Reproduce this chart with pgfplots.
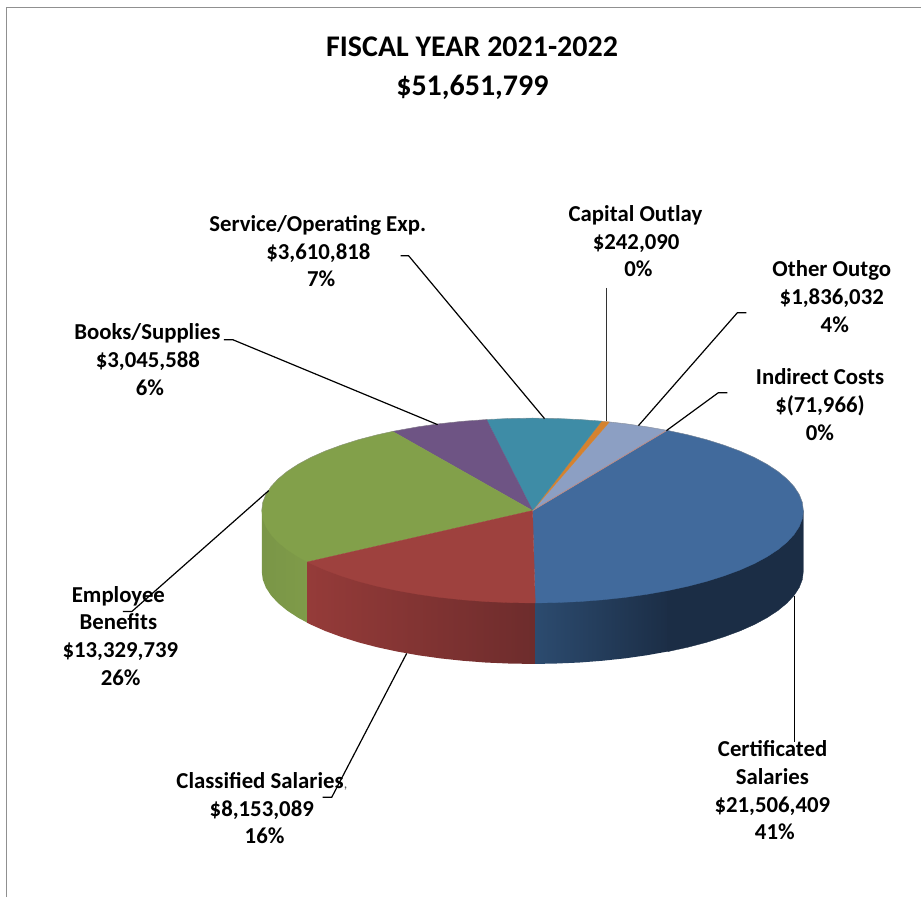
\documentclass[border=0pt]{standalone}
\usepackage{pgfplots}
\pgfplotsset{compat=1.18}
\usepackage{fontspec}
\setmainfont{Carlito}

\definecolor{blueTop}{HTML}{416A9C}
\definecolor{blueWallA}{HTML}{2C4B6F}
\definecolor{blueWallB}{HTML}{1B2D45}
\definecolor{redTop}{HTML}{9E413E}
\definecolor{redWallA}{HTML}{953B39}
\definecolor{redWallB}{HTML}{6D2C2C}
\definecolor{greenTop}{HTML}{82A04A}
\definecolor{greenWallA}{HTML}{7A9647}
\definecolor{greenWallB}{HTML}{7F9B49}
\definecolor{purpleTop}{HTML}{6E5484}
\definecolor{tealTop}{HTML}{3E8CA6}
\definecolor{orangeTop}{HTML}{D4822F}
\definecolor{periTop}{HTML}{8C9FC3}
\definecolor{indirectLine}{HTML}{C08A80}
\definecolor{frameGray}{HTML}{909090}

% one line of label text, centred on x, sitting on baseline y
\newcommand{\lbl}[3]{\node[anchor=base,inner sep=0pt,font=\fontsize{22.8}{26}\selectfont\bfseries] at (axis cs:#1,#2) {#3};}
\newcommand{\ttl}[3]{\node[anchor=base,inner sep=0pt,font=\fontsize{30}{34}\selectfont\bfseries] at (axis cs:#1,#2) {#3};}

\begin{document}
\begin{tikzpicture}
\begin{axis}[
  scale only axis, width=922pt, height=898pt,
  xmin=0, xmax=922, ymin=0, ymax=898, y dir=reverse,
  axis lines=none, clip=false,
]
% white chart area, which also sets the extent of the page
\addplot[fill=white, draw=none] coordinates {(0,0) (922,0) (922,898) (0,898)} --cycle;
% chart frame
\addplot[frameGray, line width=1.6pt] coordinates {(6.5,898) (6.5,7.5) (922,7.5)};

% side walls
\addplot[draw=none, left color=greenWallA, right color=greenWallB] coordinates {
  (262,511) (309,562.4) (309,624) (298.3,618.25) (287.4,611.1) (278.3,603.6)
  (271.2,595.9) (266.1,588.1) (263,580.1) (262,572)} --cycle;
\addplot[draw=none, left color=redWallA, right color=redWallB] coordinates {
  (307.7,562.4) (537.5,603.5) (537.5,664.5) (533,664.5) (509.4,664.1) (486,663.1)
  (462.9,661.3) (440.3,658.9) (418.5,655.8) (397.5,652.1) (377.6,647.8) (358.8,642.9)
  (341.4,637.4) (325.4,631.5) (311,625.1) (307.7,623.4)} --cycle;
\addplot[draw=none, left color=blueWallA, right color=blueWallB] coordinates {
  (535.7,603.5) (672,590.4) (672,651.4) (647.5,655.8) (625.7,658.9) (603.1,661.3)
  (580,663.1) (556.6,664.1) (535.7,664.5)} --cycle;
\addplot[fill=blueWallB, draw=blueWallB, line width=.3pt] coordinates {
  (668.5,591.1) (804,511) (804,572) (803,580.1) (799.9,588.1) (794.8,595.9) (787.7,603.6)
  (778.6,611.1) (767.7,618.25) (755,625.1) (740.6,631.5) (724.6,637.4) (707.2,642.9)
  (688.4,647.8) (668.5,652.1)} --cycle;

% top face: Certificated Salaries
\addplot[fill=blueTop, draw=blueTop, line width=.3pt] coordinates {
  (533,511) (535.7,603.5) (556.6,603.1) (580,602.1) (603.1,600.3) (625.7,597.9) (647.5,594.8)
  (668.5,591.1) (688.4,586.8) (707.2,581.9) (724.6,576.4) (740.6,570.5) (755,564.1)
  (767.7,557.25) (778.6,550.1) (787.7,542.6) (794.8,534.9) (799.9,527.1) (803,519.1) (804,511)
  (803,502.9) (799.9,494.9) (794.8,487.1) (787.7,479.4) (778.6,471.9) (767.7,464.75)
  (755,457.9) (740.6,451.5) (724.6,445.6) (707.2,440.1) (688.4,435.2) (667.5,430.7)} --cycle;
% Other Outgo
\addplot[fill=periTop, draw=periTop, line width=.3pt] coordinates {
  (533,511) (667.5,430.7) (647.5,427.2) (625.7,424.1) (610,422.3)} --cycle;
% Capital Outlay
\addplot[fill=orangeTop, draw=orangeTop, line width=.2pt] coordinates {
  (533,511) (610,422.3) (602,421.5)} --cycle;
% Service/Operating Exp.
\addplot[fill=tealTop, draw=tealTop, line width=.3pt] coordinates {
  (533,511) (602,421.5) (580,419.9) (556.6,418.9) (533,418.5) (509.4,418.9) (487,420)} --cycle;
% Books/Supplies
\addplot[fill=purpleTop, draw=purpleTop, line width=.3pt] coordinates {
  (533,511) (487,420) (462.9,421.7) (440.3,424.1) (418.5,427.2) (393,431.8)} --cycle;
% Employee Benefits
\addplot[fill=greenTop, draw=greenTop, line width=.3pt] coordinates {
  (533,511) (393,431.8) (377.6,435.2) (358.8,440.1) (341.4,445.6) (325.4,451.5) (311,457.9)
  (298.3,464.75) (287.4,471.9) (278.3,479.4) (271.2,487.1) (266.1,494.9) (263,502.9) (262,511)
  (263,519.1) (266.1,527.1) (271.2,534.9) (278.3,542.6) (287.4,550.1) (298.3,557.25) (307.7,562.4)} --cycle;
% Classified Salaries
\addplot[fill=redTop, draw=redTop, line width=.3pt] coordinates {
  (533,511) (307.7,562.4) (311,564.1) (325.4,570.5) (341.4,576.4) (358.8,581.9) (377.6,586.8)
  (397.5,591.1) (418.5,594.8) (440.3,597.9) (462.9,600.3) (486,602.1) (509.4,603.1) (533,603.5)
  (535.7,603.5)} --cycle;
% Indirect Costs: a sliver that reads as a line
\addplot[indirectLine, line width=.7pt] coordinates {(533,511) (667.5,430.7)};
% soft rim along the back of the disc
\addplot[black!45, opacity=.5, line width=.6pt] coordinates {
  (262,511) (263,502.9) (266.1,494.9) (271.2,487.1) (278.3,479.4) (287.4,471.9) (298.3,464.75)
  (311,457.9) (325.4,451.5) (341.4,445.6) (358.8,440.1) (377.6,435.2) (397.5,430.9) (418.5,427.2)
  (440.3,424.1) (462.9,421.7) (486,419.9) (509.4,418.9) (533,418.5) (556.6,418.9) (580,419.9)
  (603.1,421.7) (625.7,424.1) (647.5,427.2) (668.5,430.9) (688.4,435.2) (707.2,440.1) (724.6,445.6)
  (740.6,451.5) (755,457.9) (767.7,464.75) (778.6,471.9) (787.7,479.4) (794.8,487.1) (799.9,494.9)
  (803,502.9) (804,511)};

% labels
\ttl{472.5}{57}{FISCAL YEAR 2021-2022}
\ttl{472.8}{96}{\$51,651,799}

\lbl{318}{232}{Service/Operating Exp.}
\lbl{318.7}{260}{\$3,610,818}
\lbl{321.5}{287}{7\%}

\lbl{147.5}{340}{Books/Supplies}
\lbl{148}{368}{\$3,045,588}
\lbl{150}{396}{6\%}

\lbl{636}{222}{Capital Outlay}
\lbl{636.7}{250}{\$242,090}
\lbl{639}{277}{0\%}

\lbl{832.5}{277}{Other Outgo}
\lbl{832.5}{305}{\$1,836,032}
\lbl{835.5}{333}{4\%}

\lbl{820.7}{385}{Indirect Costs}
\lbl{820.7}{413}{\$(71,966)}
\lbl{820.7}{441}{0\%}

\lbl{118.5}{603}{Employee}
\lbl{118.5}{630}{Benefits}
\lbl{120.5}{658}{\$13,329,739}
\lbl{120.8}{686}{26\%}

\lbl{260.3}{789}{Classified Salaries}
\node[anchor=base,inner sep=0pt,font=\fontsize{14}{16}\selectfont,text=black!70] at (axis cs:346,789) {,};
\lbl{262}{817}{\$8,153,089}
\lbl{264.8}{844}{16\%}

\lbl{773.3}{757}{Certificated}
\lbl{773}{785}{Salaries}
\lbl{773}{813}{\$21,506,409}
\lbl{775.5}{840}{41\%}

% leader lines
\addplot[black, line width=1.2pt] coordinates {(401,256) (409,256) (545,419)};
\addplot[black, line width=1.2pt] coordinates {(224,340) (233,340) (438,425)};
\addplot[black, line width=1.2pt] coordinates {(123,612) (132,612) (269,491)};
\addplot[black, line width=1.2pt] coordinates {(323,798) (332,798) (407,654)};
\addplot[black, line width=1.2pt] coordinates {(795,597) (795,743)};
\addplot[black!80, line width=1.5pt] coordinates {(607,288) (607,421)};
\addplot[black, line width=1.2pt] coordinates {(747,313) (738,313) (639,426)};
\addplot[black, line width=1.2pt] coordinates {(728,393) (719,393) (667,431)};
\end{axis}
\end{tikzpicture}
\end{document}
